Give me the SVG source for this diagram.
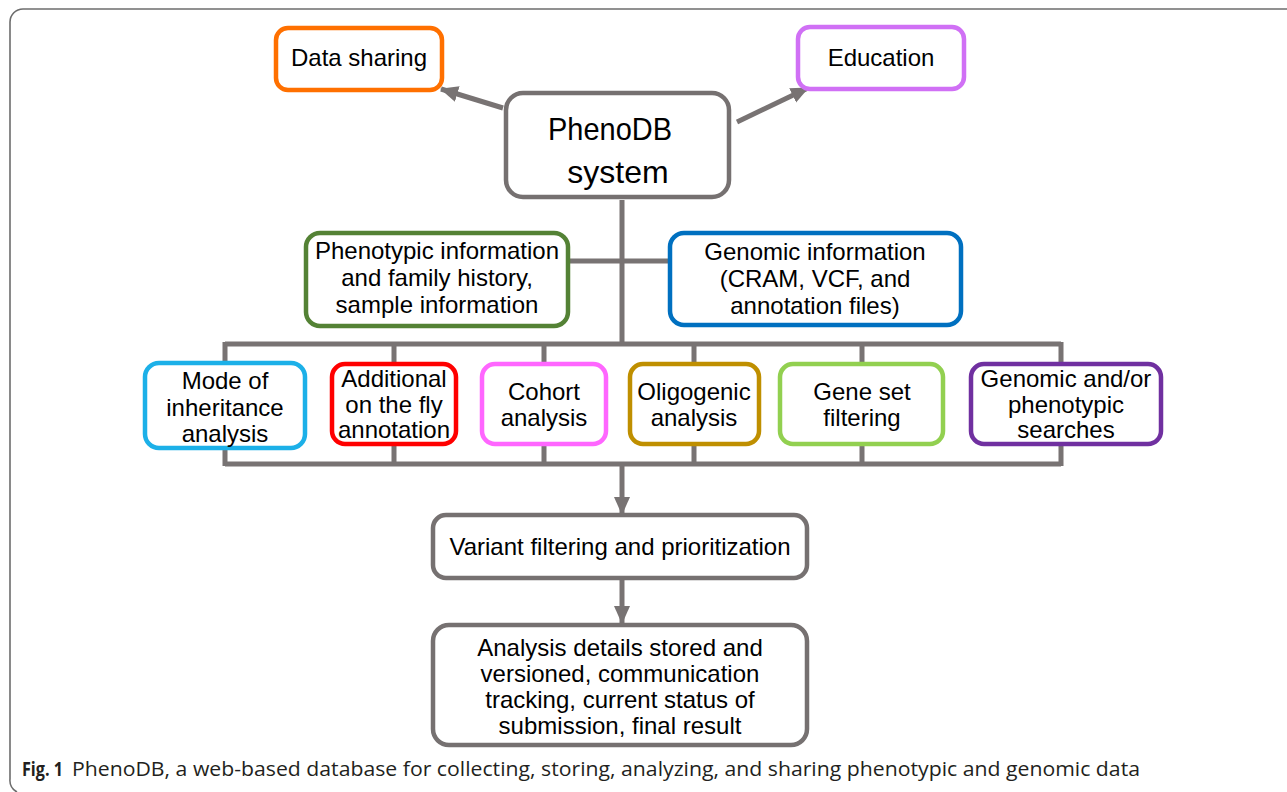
<svg xmlns="http://www.w3.org/2000/svg" width="1287" height="792" viewBox="0 0 1287 792">
<style>
.box{fill:#fff;stroke-width:4.5}
.t{font-family:"Liberation Sans",Arial,sans-serif;font-size:24px;fill:#000;text-anchor:middle}
.big{font-size:32px}
.ln{stroke:#787373;stroke-width:5;fill:none}
.cap{font-family:"Open Sans","Noto Sans",sans-serif;font-size:20px;fill:#231f20}
</style>
<defs>
<marker id="ah" markerUnits="userSpaceOnUse" markerWidth="18" markerHeight="18" viewBox="0 0 18 18" refX="17" refY="9" orient="auto">
<path d="M0,1 L18,9 L0,17 Z" fill="#787373"/>
</marker>
</defs>
<path d="M1287,9 H23 A13,13 0 0 0 10,22 V779 A13,13 0 0 0 17,792" fill="none" stroke="#6d6d6d" stroke-width="1.6"/>
<g id="connectors">
<line class="ln" x1="503" y1="108" x2="441" y2="89" marker-end="url(#ah)"/>
<line class="ln" x1="737" y1="122" x2="808" y2="88" marker-end="url(#ah)"/>
<line class="ln" x1="622" y1="200" x2="622" y2="344"/>
<line class="ln" x1="566" y1="261" x2="672" y2="261"/>
<path class="ln" d="M225,344 H1061 M225,464 H1061 M225,342 V466 M1061,342 V466 M394,344 V464 M544,344 V464 M694,344 V464 M862,344 V464"/>
<line class="ln" x1="622" y1="464" x2="622" y2="514" marker-end="url(#ah)"/>
<line class="ln" x1="622" y1="578" x2="622" y2="623" marker-end="url(#ah)"/>
</g>
<g id="data-sharing">
<rect class="box" x="276" y="28" width="166" height="62" rx="12" stroke="#ff7000"/>
<text class="t" x="359" y="66">Data sharing</text>
</g>
<g id="education">
<rect class="box" x="798" y="27" width="166" height="62" rx="12" stroke="#d070f5"/>
<text class="t" x="881" y="66">Education</text>
</g>
<g id="phenodb">
<rect class="box" x="506" y="93" width="223" height="104" rx="17" stroke="#767171" stroke-width="12"/>
<text class="t big" x="610" y="140" textLength="124" lengthAdjust="spacingAndGlyphs">PhenoDB</text>
<text class="t big" x="618" y="183">system</text>
</g>
<g id="phenotypic">
<rect class="box" x="306" y="233" width="262" height="93" rx="14" stroke="#548235"/>
<text class="t" x="437" y="259">Phenotypic information</text>
<text class="t" x="437" y="286">and family history,</text>
<text class="t" x="437" y="313">sample information</text>
</g>
<g id="genomic">
<rect class="box" x="670" y="233" width="291" height="92" rx="14" stroke="#0070c0"/>
<text class="t" x="815" y="260">Genomic information</text>
<text class="t" x="815" y="287">(CRAM, VCF, and</text>
<text class="t" x="815" y="314">annotation files)</text>
</g>
<g id="mode">
<rect class="box" x="145" y="363" width="160" height="85" rx="14" stroke="#1cb0e8"/>
<text class="t" x="225" y="389">Mode of</text>
<text class="t" x="225" y="416">inheritance</text>
<text class="t" x="225" y="442">analysis</text>
</g>
<g id="additional">
<rect class="box" x="332" y="364" width="124" height="80" rx="13" stroke="#ff0000"/>
<text class="t" x="394" y="387">Additional</text>
<text class="t" x="394" y="413">on the fly</text>
<text class="t" x="394" y="438">annotation</text>
</g>
<g id="cohort">
<rect class="box" x="482" y="364" width="124" height="80" rx="13" stroke="#ff66ff"/>
<text class="t" x="544" y="400">Cohort</text>
<text class="t" x="544" y="426">analysis</text>
</g>
<g id="oligogenic">
<rect class="box" x="630" y="364" width="129" height="80" rx="13" stroke="#bf8f00"/>
<text class="t" x="694" y="400">Oligogenic</text>
<text class="t" x="694" y="426">analysis</text>
</g>
<g id="geneset">
<rect class="box" x="780" y="364" width="163" height="80" rx="13" stroke="#92d050"/>
<text class="t" x="862" y="400">Gene set</text>
<text class="t" x="862" y="426">filtering</text>
</g>
<g id="searches">
<rect class="box" x="971" y="364" width="190" height="80" rx="13" stroke="#7030a0"/>
<text class="t" x="1066" y="387">Genomic and/or</text>
<text class="t" x="1066" y="413">phenotypic</text>
<text class="t" x="1066" y="438">searches</text>
</g>
<g id="variant">
<rect class="box" x="433" y="515" width="374" height="63" rx="13" stroke="#767171"/>
<text class="t" x="620" y="555">Variant filtering and prioritization</text>
</g>
<g id="analysis">
<rect class="box" x="433" y="625" width="374" height="120" rx="16" stroke="#767171"/>
<text class="t" x="620" y="656">Analysis details stored and</text>
<text class="t" x="620" y="682">versioned, communication</text>
<text class="t" x="620" y="708">tracking, current status of</text>
<text class="t" x="620" y="734">submission, final result</text>
</g>
<text class="cap" y="776"><tspan x="22" font-weight="bold" textLength="41" lengthAdjust="spacingAndGlyphs">Fig. 1</tspan><tspan x="72" textLength="1068" lengthAdjust="spacingAndGlyphs">PhenoDB, a web-based database for collecting, storing, analyzing, and sharing phenotypic and genomic data</tspan></text>
</svg>
